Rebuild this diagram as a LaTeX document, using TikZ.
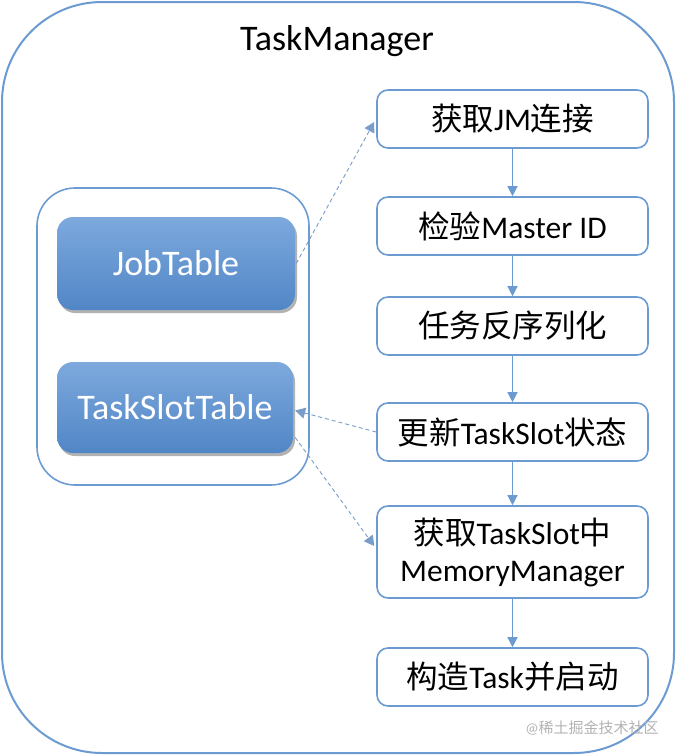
\documentclass[tikz,border=0pt]{standalone}
\usepackage{fontspec}
\setmainfont{Carlito}
\newfontfamily\cjk{Noto Sans CJK SC}
\newcommand\zh[1]{{\cjk #1}}
\usetikzlibrary{arrows.meta,shadows}
\definecolor{bl}{HTML}{6C9BD2}
\definecolor{bltop}{HTML}{7DA9DD}
\definecolor{blbot}{HTML}{5186C6}
\definecolor{dashcol}{HTML}{7A9CC8}
\tikzset{
  stepbox/.style={draw=bl, line width=1.6pt, fill=white, rounded corners=11pt,
    minimum width=271pt, minimum height=58pt, align=center, inner sep=2pt,
    font=\fontsize{31.5}{37}\selectfont},
  tablebox/.style={rounded corners=16pt, top color=bltop, bottom color=blbot,
    text=white, font=\fontsize{36}{40}\selectfont,
    drop shadow={shadow xshift=2pt, shadow yshift=-3pt, opacity=0.3, fill=black}},
  flow/.style={bl, line width=1.3pt, -{Triangle[width=10pt,length=10pt]}},
  dflow/.style={dashcol, line width=0.9pt, dash pattern=on 4pt off 3pt,
    -{Triangle[width=11pt,length=10pt]}},
}
\begin{document}
\begin{tikzpicture}[x=1pt,y=-1pt]
\useasboundingbox (0,0) rectangle (676,756);
\node[draw=bl, line width=2pt, rounded corners=100pt, minimum width=672pt, minimum height=751pt] (outer) at (338,377.5) {};
\node[font=\fontsize{36}{40}\selectfont] (title) at (337,41) {TaskManager};
\node[draw=bl, line width=1.6pt, rounded corners=38pt, minimum width=272pt, minimum height=297pt] (cont) at (173,336.5) {};
\node[tablebox, minimum width=238pt, minimum height=93pt] (jt) at (176,263.5) {JobTable};
\node[tablebox, minimum width=236pt, minimum height=91pt] (ts) at (175,407.5) {TaskSlotTable};

\node[stepbox] (b1) at (512.5,119) {\zh{获取}JM\zh{连接}};
\node[stepbox] (b2) at (512.5,226) {\zh{检验}Master ID};
\node[stepbox] (b3) at (512.5,326) {\zh{任务反序列化}};
\node[stepbox] (b4) at (512.5,432) {\zh{更新}TaskSlot\zh{状态}};
\node[stepbox, minimum height=92pt] (b5) at (512.5,552) {\zh{获取}TaskSlot\zh{中}\\MemoryManager};
\node[stepbox] (b6) at (512.5,677) {\zh{构造}Task\zh{并启动}};

\draw[flow] (b1) -- (b2);
\draw[flow] (b2) -- (b3);
\draw[flow] (b3) -- (b4);
\draw[flow] (b4) -- (b5);
\draw[flow] (b5) -- (b6);

\draw[dflow] ([shift={(1pt,0pt)}]jt.east) -- ([shift={(-2pt,-3pt)}]b1.west);
\draw[dflow] (b4.west) -- ([shift={(2pt,-3pt)}]ts.east);
\draw[dflow] ([shift={(2pt,-30pt)}]ts.east) -- ([shift={(-2pt,6pt)}]b5.west);

\node[text=black!30, font=\fontsize{15}{18}\selectfont] (wm) at (592,728) {@\zh{稀土掘金技术社区}};
\end{tikzpicture}
\end{document}
